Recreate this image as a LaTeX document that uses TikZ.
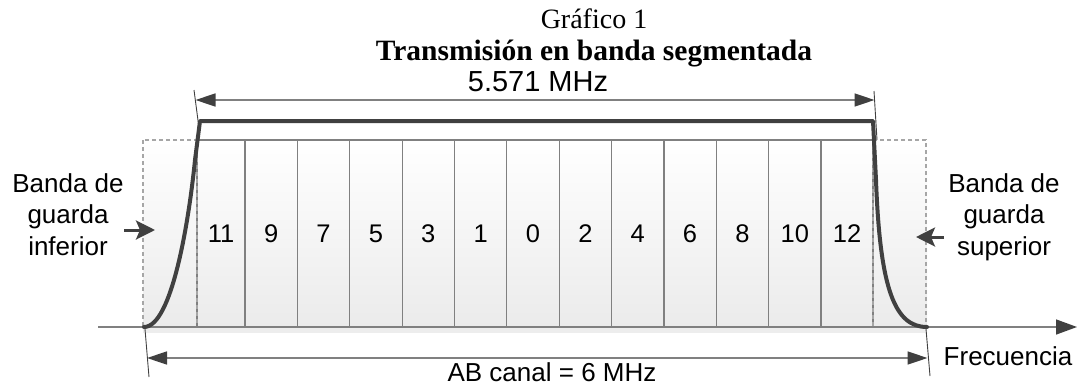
\documentclass[tikz,border=0pt]{standalone}
\usepackage{fontspec}
\setmainfont{Liberation Serif}
\newfontfamily\labelfont{Liberation Sans}
\usetikzlibrary{arrows.meta}
\definecolor{curvegray}{HTML}{404040}
\definecolor{linegray}{HTML}{808080}
\definecolor{dashgray}{HTML}{A6A6A6}
\definecolor{fillbottom}{HTML}{EBEBEB}
\begin{document}
\begin{tikzpicture}[x=1pt,y=-1pt,
  lbl/.style={font=\labelfont\fontsize{26}{31.5}\selectfont, inner sep=0pt, align=center},
  titlefont/.style={font=\fontsize{28}{32}\selectfont, inner sep=0pt},
  subband/.style={draw=linegray, line width=1.2pt, inner sep=0pt, outer sep=0pt,
    text height=18pt, text depth=0pt,
    font=\labelfont\fontsize{25.5}{30}\selectfont},
  guardbox/.style={draw=dashgray, line width=1.2pt, dash pattern=on 4pt off 3pt},
  dimline/.style={draw=linegray, line width=1.5pt,
    {Triangle[length=20pt,width=13pt,color=curvegray]}-{Triangle[length=20pt,width=13pt,color=curvegray]}},
  extline/.style={draw=curvegray, line width=0.9pt},
  axisline/.style={draw=linegray, line width=1.5pt, -{Triangle[length=21pt,width=15pt,color=curvegray]}},
  guardarrow/.style={draw=curvegray, line width=3pt, -{Stealth[length=19pt,width=19pt,inset=4pt]}},
  spectrum/.style={draw=curvegray, line width=4pt, line join=round, line cap=round}
]
\useasboundingbox (0,0) rectangle (1078,388);

% titles
\node[titlefont, anchor=base] (fig) at (594,28) {Gráfico 1};
\node[titlefont, anchor=base, font=\bfseries\fontsize{29.5}{32}\selectfont] (title) at (594,60)
  {Transmisión en banda segmentada};

% background of the channel, with a faint shadow under it
\fill[gray!14] (143,327) rectangle (927,333);
\shade[top color=white, bottom color=fillbottom] (143,140) rectangle (927,327);

% OFDM segments
\foreach \l/\r/\t [count=\i] in {197/245/11, 245/297.4/9, 297.4/349.7/7, 349.7/402.1/5,
    402.1/454.4/3, 454.4/506.8/1, 506.8/559.2/0, 559.2/611.5/2, 611.5/663.9/4,
    663.9/716.2/6, 716.2/768.6/8, 768.6/821/10, 821/873/12} {
  \pgfmathsetmacro\w{\r-\l}
  \node[subband, minimum width=\w pt, minimum height=187pt] (seg\i) at ({(\l+\r)/2},233.5) {\t};
}

% guard bands
\draw[guardbox] (143,140) rectangle (197,327);
\draw[guardbox] (873,140) rectangle (926,327);

% frequency axis
\coordinate (axstart) at (98,327);
\coordinate (axend) at (1077,327);
\draw[axisline] (axstart) -- (axend);
\node[lbl, anchor=base] (freq) at (1008,365) {Frecuencia};

% spectrum mask
\draw[spectrum] (144,327) .. controls (172,327) and (189,220) .. (195,160) -- (200,121)
  -- (873,121) -- (876,180) .. controls (880,290) and (895,327) .. (927,327);

% 5.571 MHz dimension
\coordinate (tl0) at (194,90);
\coordinate (tl1) at (199,128);
\coordinate (tr0) at (874,91);
\coordinate (tr1) at (877,140);
\draw[extline] (tl0) -- (tl1);
\draw[extline] (tr0) -- (tr1);
\coordinate (ta) at (195.5,100);
\coordinate (tb) at (874.5,100);
\draw[dimline] (ta) -- (tb);
\node[lbl, anchor=base, font=\labelfont\fontsize{29}{32}\selectfont] (bwtop) at (538,91) {5.571 MHz};

% channel width dimension
\coordinate (bl0) at (145,329);
\coordinate (bl1) at (149,377);
\coordinate (br0) at (926,329);
\coordinate (br1) at (930,376);
\draw[extline] (bl0) -- (bl1);
\draw[extline] (br0) -- (br1);
\coordinate (ba) at (147,358);
\coordinate (bb) at (927.5,358);
\draw[dimline] (ba) -- (bb);
\node[lbl, anchor=base] (bwchan) at (552,381) {AB canal = 6 MHz};

% guard band labels
\node[lbl, anchor=north] (lowguard) at (68,173) {Banda de\\guarda\\inferior};
\node[lbl, anchor=north] (upguard) at (1004,173) {Banda de\\guarda\\superior};
\coordinate (la) at (124,230);
\coordinate (lb) at (155,230);
\coordinate (ra) at (944,237);
\coordinate (rb) at (916,237);
\draw[guardarrow] (la) -- (lb);
\draw[guardarrow] (ra) -- (rb);
\end{tikzpicture}
\end{document}
